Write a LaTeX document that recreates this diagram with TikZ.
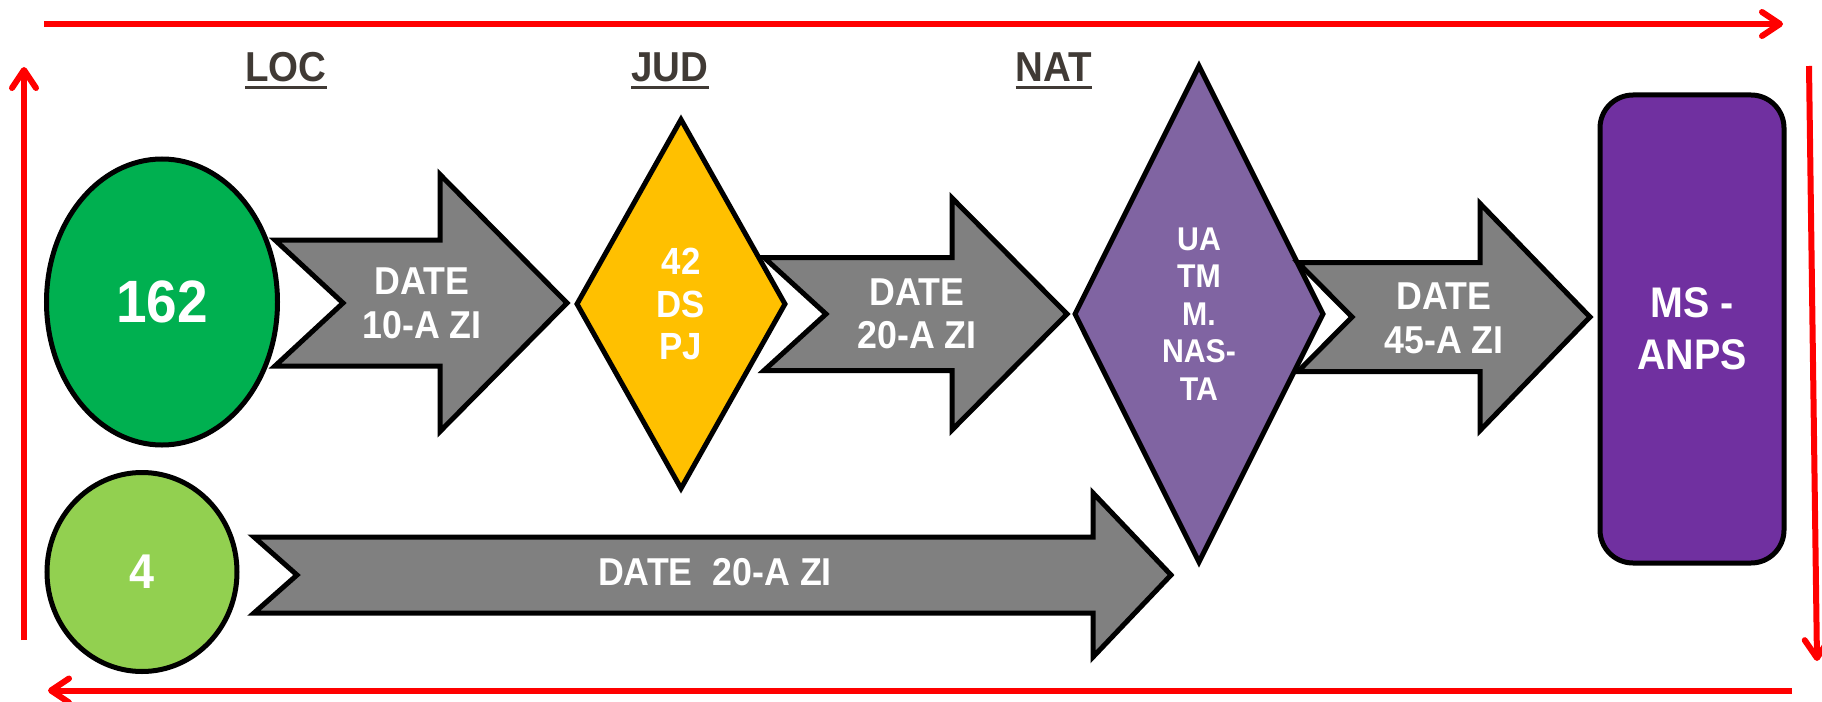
\documentclass[tikz,border=0pt]{standalone}
\usepackage{fontspec}
\newfontfamily\lblfont{Liberation Sans}[FakeStretch=0.92]
\usetikzlibrary{shapes.geometric,arrows.meta}

\definecolor{redline}{HTML}{FF0000}
\definecolor{greendark}{HTML}{00B050}
\definecolor{greenlight}{HTML}{92D050}
\definecolor{arrowgray}{HTML}{808080}
\definecolor{amber}{HTML}{FFC000}
\definecolor{lilac}{HTML}{8064A2}
\definecolor{deeppurple}{HTML}{7030A0}
\definecolor{headbrown}{HTML}{403A35}

% notched block arrow: tail x, notch x, shaft half-height, head x, head half-height, tip x, centre y
\newcommand{\notchedarrow}[7]{%
  \draw[blockarrow] (#1,#7-#3) -- (#4,#7-#3) -- (#4,#7-#5) -- (#6,#7)
    -- (#4,#7+#5) -- (#4,#7+#3) -- (#1,#7+#3) -- (#2,#7) -- cycle;}

\begin{document}
\begin{tikzpicture}[x=1bp,y=-1bp,
  blackline/.style={draw=black,line width=5bp},
  blockarrow/.style={blackline,fill=arrowgray,line join=miter},
  lbl/.style={text=white,inner sep=0pt,align=center},
  hdr/.style={text=headbrown,inner sep=0pt,font=\lblfont\bfseries\fontsize{42}{46}\selectfont},
  redarrow/.style={draw=redline,line width=6bp,
    -{Straight Barb[length=18bp,width=24bp,round]}},
]
\useasboundingbox (0,0) rectangle (1822,702);

% headers
\node[hdr,anchor=base] (loc) at (286,82) {LOC};
\node[hdr,anchor=base] (jud) at (670,82) {JUD};
\node[hdr,anchor=base] (nat) at (1054,82) {NAT};
\foreach \h in {loc,jud,nat}
  \draw[headbrown,line width=3.2bp] ([yshift=-5.5bp]\h.base west) -- ([yshift=-5.5bp]\h.base east);

% circles on the left
\node[ellipse,blackline,fill=greendark,minimum width=231bp,minimum height=286bp,
      lbl,font=\lblfont\bfseries\fontsize{60}{64}\selectfont] (n162) at (162,302) {162};
\node[ellipse,blackline,fill=greenlight,minimum width=190bp,minimum height=199bp,
      lbl,font=\lblfont\bfseries\fontsize{49}{54}\selectfont] (n4) at (142,572) {4};

% first step
\notchedarrow{275}{343}{63}{440}{128.5}{567}{303}
\node[lbl,font=\lblfont\bfseries\fontsize{39}{44}\selectfont] (t1) at (422,303) {DATE\\10-A ZI};

% county level
\node[diamond,blackline,fill=amber,minimum width=210bp,minimum height=371bp,
      lbl,font=\lblfont\bfseries\fontsize{38}{43}\selectfont] (jdia) at (681,304) {42\\DS\\PJ};

\notchedarrow{764}{826}{56.5}{952}{116}{1067}{314}
\node[lbl,font=\lblfont\bfseries\fontsize{39}{43}\selectfont] (t2) at (917,314) {DATE\\20-A ZI};

% long bottom arrow
\notchedarrow{254}{297}{38}{1093}{82}{1171}{575}
\node[lbl,font=\lblfont\bfseries\fontsize{39}{44}\selectfont] (t4) at (715,572) {DATE\ \ 20-A ZI};

% national level
\node[diamond,blackline,fill=lilac,minimum width=250bp,minimum height=498bp,
      lbl,font=\lblfont\bfseries\fontsize{33}{37.5}\selectfont] (ndia) at (1199,314) {UA\\TM\\M.\\NAS-\\TA};

\notchedarrow{1298}{1352}{54.5}{1480}{113.5}{1590}{317}
\node[lbl,font=\lblfont\bfseries\fontsize{39}{44}\selectfont] (t3) at (1444,318) {DATE\\45-A ZI};

% ministry
\node[rectangle,rounded corners=33bp,blackline,fill=deeppurple,minimum width=184bp,minimum height=468bp,
      lbl,font=\lblfont\bfseries\fontsize{43}{52}\selectfont] (ms) at (1692,329) {MS -\\ANPS};

% red cycle around the diagram
\coordinate (topL) at (44,24);
\coordinate (topR) at (1783,24);
\coordinate (rightT) at (1809,66);
\coordinate (rightB) at (1817,661);
\coordinate (botR) at (1792,690.5);
\coordinate (botL) at (48,690.5);
\coordinate (leftB) at (24,640);
\coordinate (leftT) at (24,67);
\draw[redarrow] (topL) -- (topR);
\draw[redarrow] (rightT) -- (rightB);
\draw[redarrow] (botR) -- (botL);
\draw[redarrow] (leftB) -- (leftT);
\end{tikzpicture}
\end{document}
